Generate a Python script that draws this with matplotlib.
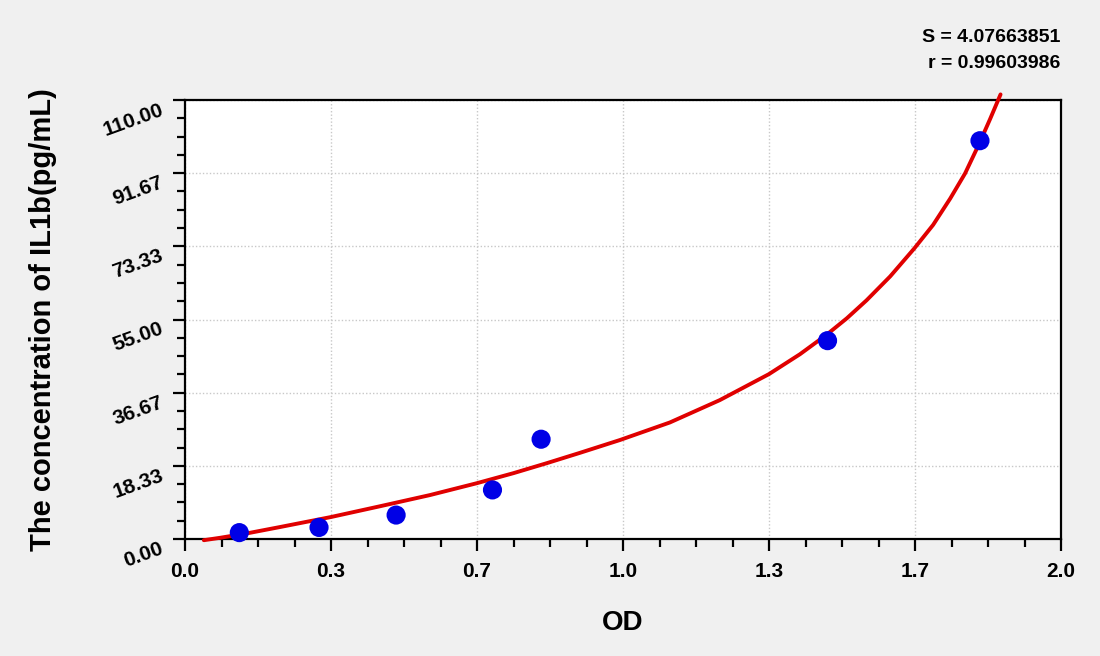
import matplotlib
matplotlib.use("Agg")
import matplotlib.pyplot as plt
from matplotlib.ticker import FixedLocator, MultipleLocator

# ---- data ----
od_points = [0.124, 0.306, 0.482, 0.702, 0.813, 1.467, 1.815]
conc_points = [1.6, 2.9, 6.0, 12.3, 25.0, 49.7, 99.8]

curve_x = [0.043, 0.080, 0.141, 0.217, 0.333, 0.445, 0.559, 0.667, 0.750, 0.826,
           0.902, 0.993, 1.107, 1.221, 1.333, 1.404, 1.465, 1.511, 1.556, 1.610,
           1.665, 1.708, 1.747, 1.781, 1.813, 1.838, 1.862]
curve_y = [-0.3, 0.3, 1.4, 3.0, 5.5, 8.2, 11.0, 14.0, 16.5, 19.0,
           21.6, 24.8, 29.2, 34.8, 41.3, 46.3, 51.2, 55.3, 59.8, 65.8,
           72.8, 78.7, 85.3, 91.6, 99.0, 105.2, 111.4]

x_ticks = [0.0, 1/3, 2/3, 1.0, 4/3, 5/3, 2.0]
x_tick_labels = ["0.0", "0.3", "0.7", "1.0", "1.3", "1.7", "2.0"]
y_ticks = [0.0, 110/6, 220/6, 55.0, 440/6, 550/6, 110.0]
y_tick_labels = ["0.00", "18.33", "36.67", "55.00", "73.33", "91.67", "110.00"]

stat_lines = ["S = 4.07663851", "r = 0.99603986"]
x_label = "OD"
y_label = "The concentration of IL1b(pg/mL)"

plt.rcParams['font.family'] = ['Liberation Sans', 'DejaVu Sans']

fig = plt.figure(figsize=(11, 6.56), dpi=100, facecolor='#f0f0f0')
ax = fig.add_axes([185/1100, 1 - 539/656, 876/1100, 439/656])
ax.set_facecolor('white')

ax.set_xlim(0, 2.0)
ax.set_ylim(0, 110)

ax.xaxis.set_major_locator(FixedLocator(x_ticks))
ax.yaxis.set_major_locator(FixedLocator(y_ticks))
ax.xaxis.set_minor_locator(MultipleLocator(1/12))
ax.yaxis.set_minor_locator(MultipleLocator(110/24))
ax.set_xticklabels(x_tick_labels, fontsize=15, fontweight='bold')
ax.set_yticklabels(y_tick_labels, fontsize=15, fontweight='bold')

ax.grid(True, which='major', color='#c8c8c8', linestyle=(0, (1, 1.5)), linewidth=1)
ax.set_axisbelow(True)

for s in ax.spines.values():
    s.set_linewidth(1.6)
    s.set_color('black')

ax.tick_params(which='major', direction='out', length=8.5, width=1.6, color='black')
ax.tick_params(which='minor', direction='out', length=5.5, width=1.6, color='black')
ax.tick_params(axis='x', which='major', pad=8)
ax.tick_params(axis='y', which='major', pad=10)
plt.setp(ax.get_yticklabels(), rotation=20, ha='right', va='top', rotation_mode='anchor')

ax.plot(curve_x, curve_y, color='#e00000', linewidth=2.8, clip_on=False, zorder=3,
        solid_capstyle='round', solid_joinstyle='round')
ax.scatter(od_points, conc_points, s=190, color='#0000e6', zorder=4, clip_on=False,
           edgecolors='none')

ax.set_xlabel(x_label, fontsize=20, fontweight='bold')
ax.set_ylabel(y_label, fontsize=21, fontweight='bold')
ax.xaxis.set_label_coords(0.5, (539 - 623) / 439)
ax.xaxis.label.set_va('center')
ax.yaxis.set_label_coords((43 - 185) / 876, 0.5)
ax.yaxis.label.set_va('center')

fig.text(1060/1100, 1 - 37/656, stat_lines[0], ha='right', va='center',
         fontsize=14, fontweight='bold')
fig.text(1060/1100, 1 - 63/656, stat_lines[1], ha='right', va='center',
         fontsize=14, fontweight='bold')

fig.savefig("out.png", dpi=100, facecolor=fig.get_facecolor())
